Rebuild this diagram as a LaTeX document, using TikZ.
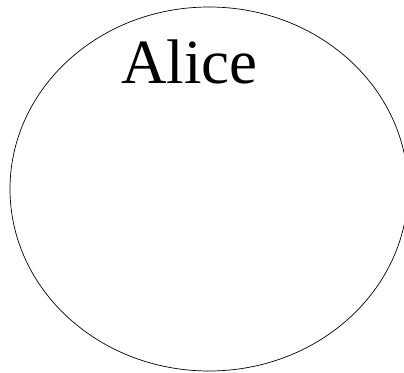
\documentclass[tikz,border=0pt]{standalone}
\usepackage{fontspec}
\setmainfont{Liberation Serif}
\usetikzlibrary{shapes.geometric}
\tikzset{
  outline/.style={draw=black, line width=0.7pt, ellipse, inner sep=0pt, minimum width=398pt, minimum height=364pt},
  bigtext/.style={font=\fontsize{63}{70}\selectfont, inner sep=0pt, anchor=base}
}
\begin{document}
\begin{tikzpicture}[x=1pt,y=1pt]
\useasboundingbox (0,0) rectangle (404,372);
\clip (0,0) rectangle (404,372);
\node[outline] (shape) at (209,183) {};
\node[bigtext] (alice) at (189.5,288) {Alice};
\end{tikzpicture}
\end{document}
